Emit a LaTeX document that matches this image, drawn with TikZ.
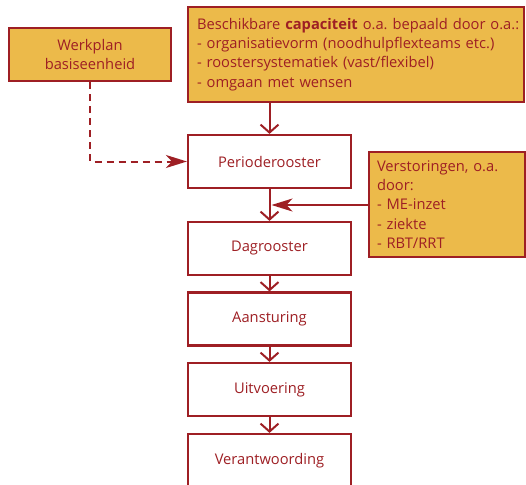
\documentclass[tikz,border=0pt]{standalone}
\usepackage{fontspec}
\setmainfont{Open Sans}
\frenchspacing
\usetikzlibrary{arrows.meta}
\definecolor{dred}{HTML}{9E1F24}
\definecolor{gold}{HTML}{ECBA4A}
\begin{document}
\begin{tikzpicture}[x=1pt,y=-1pt,
  font=\fontsize{14.7}{19.3}\selectfont,
  every node/.style={text=dred},
  box/.style={draw=dred,line width=2.2pt,inner sep=0pt,align=center,minimum width=163,minimum height=53,fill=white},
  gbox/.style={box,fill=gold},
  flow/.style={draw=dred,line width=2pt,-{Straight Barb[length=8pt,width=18pt,line width=2pt]}},
  side/.style={draw=dred,line width=2pt,-{Stealth[length=21pt,width=13pt,inset=6pt]}},
  dashline/.style={side,dash pattern=on 7pt off 5pt}]
\useasboundingbox (0,0) rectangle (526,484);
\clip (0,0) rectangle (526,484);
\node[gbox,minimum width=162] (wp) at (90,54.5) {Werkplan\\basiseenheid};
\node[gbox,minimum width=336,minimum height=95,align=left,text width=318,inner xsep=9pt] (bc) at (356,54.5) {\mbox{Beschikbare \textbf{capaciteit} o.a. bepaald door o.a.:}\\- organisatievorm (noodhulpflexteams etc.)\\- roostersystematiek (vast/flexibel)\\- omgaan met wensen};
\node[box] (pr) at (269.5,161.5) {Perioderooster};
\node[box] (dg) at (269.5,248.5) {Dagrooster};
\node[box] (as) at (269.5,319) {Aansturing};
\node[box] (uv) at (269.5,389.5) {Uitvoering};
\node[box] (vw) at (269.5,460.5) {Verantwoording};
\node[gbox,minimum width=156,minimum height=105,align=left,text width=140,inner xsep=8pt] (vs) at (447,204.5) {Verstoringen, o.a.\\door:\\- ME-inzet\\- ziekte\\- RBT/RRT};
\draw[flow] (bc.south -| pr.north) -- (pr.north);
\draw[flow] (pr) -- (dg);
\draw[flow] (dg) -- (as);
\draw[flow] (as) -- (uv);
\draw[flow] (uv) -- (vw);
\coordinate (m) at (271.5,205);
\draw[side] (vs.west |- m) -- (m);
\draw[dashline] (wp.south) |- (pr.west);
\end{tikzpicture}
\end{document}
